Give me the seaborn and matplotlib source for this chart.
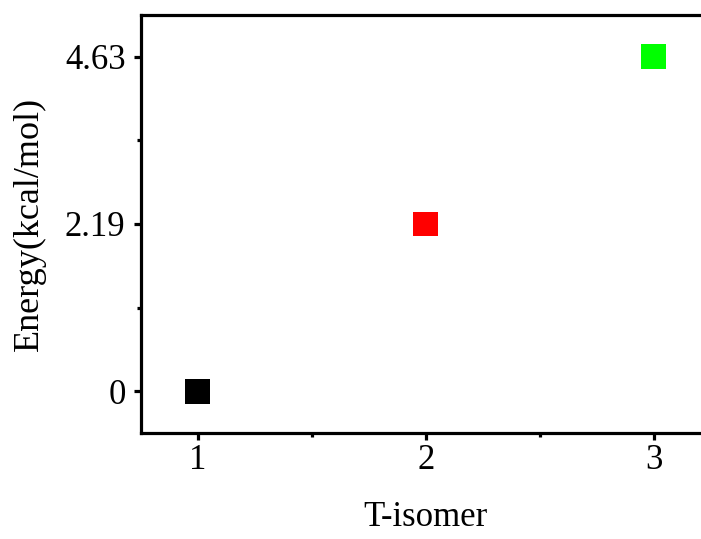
import matplotlib
matplotlib.use("Agg")
import matplotlib.pyplot as plt
import seaborn as sns
import pandas as pd
from matplotlib.ticker import FixedLocator

# Data
isomers = [1, 2, 3]
energy_labels = ["0", "2.19", "4.63"]
colors = ["#000000", "#ff0000", "#00ff00"]

data = pd.DataFrame({"isomer": isomers, "energy": energy_labels})

sns.set_style("ticks")
plt.rcParams["font.family"] = ["Liberation Serif", "DejaVu Serif"]
plt.rcParams["text.color"] = "black"
plt.rcParams["axes.labelcolor"] = "black"
plt.rcParams["xtick.color"] = "black"
plt.rcParams["ytick.color"] = "black"

fig = plt.figure(figsize=(7.01, 5.39), dpi=100)
ax = fig.add_axes([0.201, 0.1967, 0.813, 0.7755])

sns.scatterplot(x="isomer", y="energy", hue="energy", data=data, palette=colors,
                marker="s", s=320, linewidth=0, legend=False, ax=ax)

ax.set_xlim(0.75, 3.25)
ax.set_ylim(-0.25, 2.25)
ax.set_xticks(isomers)
ax.xaxis.set_minor_locator(FixedLocator([1.5, 2.5]))
ax.yaxis.set_minor_locator(FixedLocator([0.5, 1.5]))

ax.set_xlabel("T-isomer", fontsize=25, labelpad=17)
ax.set_ylabel("Energy(kcal/mol)", fontsize=26, labelpad=14)

for side in ["left", "bottom", "top", "right"]:
    ax.spines[side].set_visible(True)
    ax.spines[side].set_linewidth(2.3)
    ax.spines[side].set_color("black")

ax.tick_params(axis="both", which="major", direction="out", length=5, width=2.3,
               labelsize=25, colors="black")
ax.tick_params(axis="y", which="major", pad=6)
ax.tick_params(axis="x", which="major", pad=3)
ax.tick_params(axis="both", which="minor", direction="out", length=3, width=2.3,
               color="black")

fig.savefig("out.png", dpi=100)
